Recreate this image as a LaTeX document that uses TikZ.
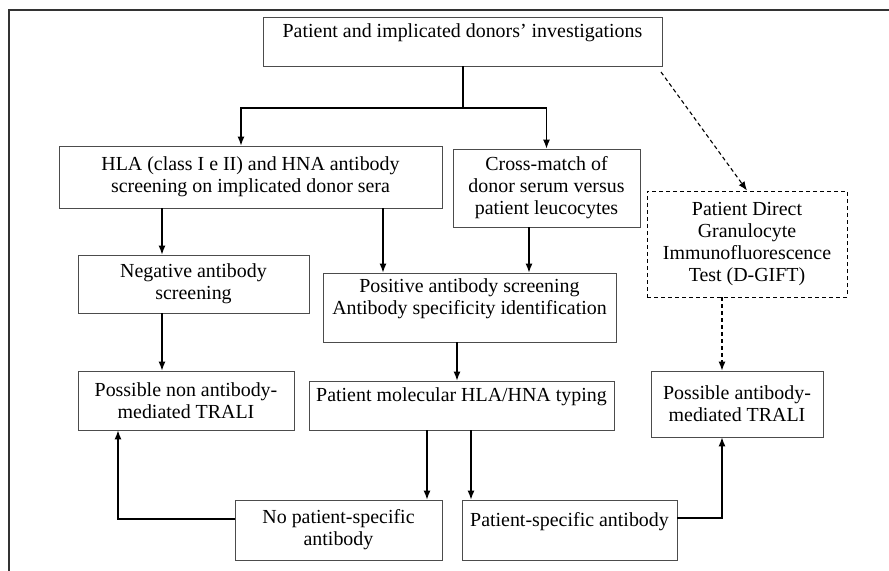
\documentclass[tikz,border=0pt]{standalone}
\usepackage{fontspec}
\setmainfont{Liberation Serif}
\usetikzlibrary{arrows.meta,calc}
\begin{document}
\begin{tikzpicture}[x=1bp,y=-1bp,
  box/.style={draw=black!70,line width=0.9bp,align=center,inner sep=0pt,
    font=\fontsize{20}{22}\selectfont},
  dbox/.style={box,draw=black,dashed,dash pattern=on 4bp off 3bp},
  arr/.style={draw=black,line width=1.1bp,-{Latex[length=9bp,width=7bp]}},
  ln/.style={draw=black,line width=1.1bp},
  darr/.style={arr,dash pattern=on 4bp off 3bp}]
\useasboundingbox (0,0) rectangle (889,571);
\clip (0,0) rectangle (889,571);
\draw[line width=1.4bp,draw=black!80] (9,580) -- (9,10) -- (895,10);
% nodes
\node[box,minimum width=399bp,minimum height=49bp] (top) at (462.5,41.5)
  {Patient and implicated donors’ investigations\\ \mbox{}};
\node[box,minimum width=383bp,minimum height=62bp] (hla) at (250.5,177)
  {HLA (class I e II) and HNA antibody\\screening on implicated donor sera};
\node[box,minimum width=187bp,minimum height=78bp] (cross) at (546.5,188)
  {Cross-match of\\donor serum versus\\patient leucocytes};
\node[dbox,minimum width=200bp,minimum height=106bp] (dgift) at (747,244)
  {Patient Direct\\Granulocyte\\Immunofluorescence\\Test (D-GIFT)};
\node[box,minimum width=231bp,minimum height=58bp] (neg) at (193.5,284)
  {Negative antibody\\screening};
\node[box,minimum width=293bp,minimum height=69bp] (pos) at (469.5,307.5)
  {Positive antibody screening\\Antibody specificity identification\\ \mbox{}};
\node[box,minimum width=216bp,minimum height=59bp] (nonab) at (186,400.5)
  {Possible non antibody-\\mediated TRALI};
\node[box,minimum width=305bp,minimum height=49bp] (mol) at (461.5,405.5)
  {Patient molecular HLA/HNA typing\\ \mbox{}};
\node[box,minimum width=172bp,minimum height=66bp] (abmed) at (737,404)
  {Possible antibody-\\mediated TRALI};
\node[box,minimum width=207bp,minimum height=60bp] (nops) at (338.5,530)
  {No patient-specific\\antibody};
\node[box,minimum width=215bp,minimum height=60bp] (ps) at (569.5,530)
  {Patient-specific antibody\\ \mbox{}};
% helper coordinates
\coordinate (j) at (463,108);
\coordinate (xa) at (241,0);
\coordinate (xb) at (162,0);
\coordinate (xc) at (383,0);
\coordinate (xd) at (529,0);
\coordinate (xe) at (457,0);
\coordinate (xf) at (427,0);
\coordinate (xg) at (471,0);
\coordinate (xh) at (722,0);
\coordinate (xi) at (118,0);
\coordinate (ya) at (0,518);
\coordinate (yb) at (0,519);
\coordinate (ds) at (661,72);
% connectors
\draw[ln] (top.south -| j) -- (j);
\draw[arr] (j) -| (hla.north -| xa);
\draw[arr] (j) -| (cross.north);
\draw[darr] (ds) -- (dgift.north);
\draw[arr] (hla.south -| xb) -- (neg.north -| xb);
\draw[arr] (hla.south -| xc) -- (pos.north -| xc);
\draw[arr] (cross.south -| xd) -- (pos.north -| xd);
\draw[arr] (neg.south -| xb) -- (nonab.north -| xb);
\draw[arr] (pos.south -| xe) -- (mol.north -| xe);
\draw[arr] (mol.south -| xf) -- (nops.north -| xf);
\draw[arr] (mol.south -| xg) -- (ps.north -| xg);
\draw[darr] (dgift.south -| xh) -- (abmed.north -| xh);
\draw[arr] (ps.east |- ya) -| (abmed.south -| xh);
\draw[arr] (nops.west |- yb) -| (nonab.south -| xi);
\end{tikzpicture}
\end{document}
